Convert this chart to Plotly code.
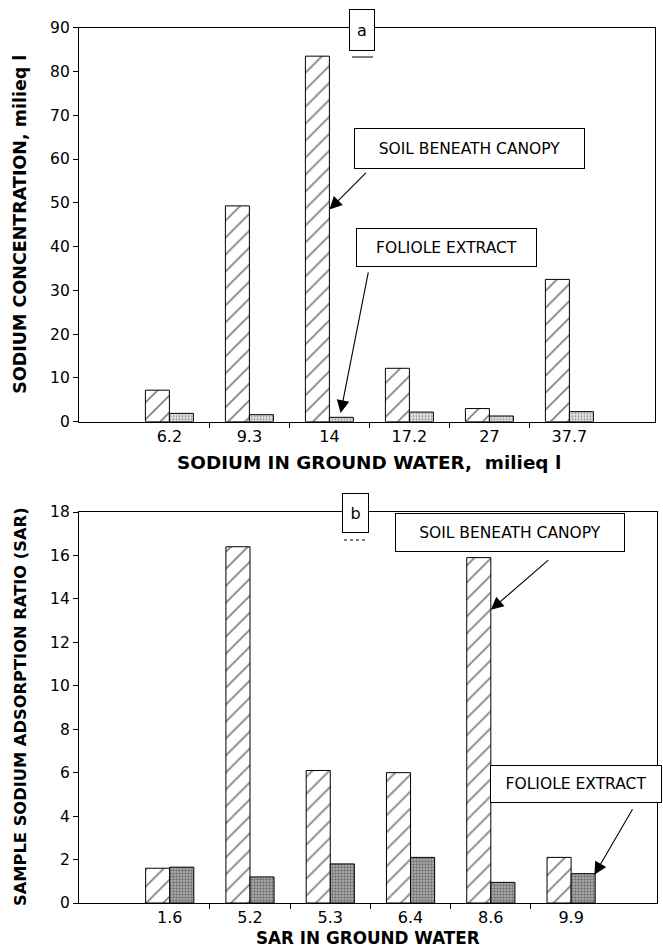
import plotly.graph_objects as go

# ---------------- data ----------------
categories_a = ["6.2", "9.3", "14", "17.2", "27", "37.7"]
soil_a = [7.2, 49.3, 83.5, 12.2, 3.0, 32.5]
foliole_a = [1.9, 1.6, 1.0, 2.2, 1.3, 2.3]

categories_b = ["1.6", "5.2", "5.3", "6.4", "8.6", "9.9"]
soil_b = [1.6, 16.4, 6.1, 6.0, 15.9, 2.1]
foliole_b = [1.65, 1.2, 1.8, 2.1, 0.95, 1.35]

yticks_a = list(range(0, 91, 10))
yticks_b = list(range(0, 19, 2))

W, H = 663, 949


def px(x):
    return x / W


def py(y):
    return 1 - y / H


FONT = "DejaVu Sans"
idx_a = list(range(len(categories_a)))
idx_b = list(range(len(categories_b)))

fig = go.Figure()

soil_pattern = dict(shape="/", fgcolor="black", bgcolor="white", size=12, solidity=0.14)
fol_pattern_a = dict(shape=".", fgcolor="#444444", bgcolor="#e6e6e6", size=3, solidity=0.35)
fol_pattern_b = dict(shape=".", fgcolor="#222222", bgcolor="#a8a8a8", size=3, solidity=0.4)

fig.add_trace(go.Bar(x=idx_a, y=soil_a, width=0.3, offset=-0.3, xaxis="x", yaxis="y",
                     marker=dict(color="white", line=dict(color="black", width=1), pattern=soil_pattern),
                     showlegend=False, name="Soil beneath canopy"))
fig.add_trace(go.Bar(x=idx_a, y=foliole_a, width=0.3, offset=0.0, xaxis="x", yaxis="y",
                     marker=dict(color="#e6e6e6", line=dict(color="black", width=1), pattern=fol_pattern_a),
                     showlegend=False, name="Foliole extract"))
fig.add_trace(go.Bar(x=idx_b, y=soil_b, width=0.3, offset=-0.3, xaxis="x2", yaxis="y2",
                     marker=dict(color="white", line=dict(color="black", width=1), pattern=soil_pattern),
                     showlegend=False, name="Soil beneath canopy"))
fig.add_trace(go.Bar(x=idx_b, y=foliole_b, width=0.3, offset=0.0, xaxis="x2", yaxis="y2",
                     marker=dict(color="#a8a8a8", line=dict(color="black", width=1), pattern=fol_pattern_b),
                     showlegend=False, name="Foliole extract"))

xr = [-1.13, 6.07]
minor_vals = [i + 0.5 for i in range(len(categories_a) - 1)]

common_x = dict(range=xr, showline=True, linecolor="black", linewidth=1.3, mirror=True,
                ticks="", showgrid=False, zeroline=False, automargin=False,
                tickfont=dict(family=FONT, size=16, color="black"),
                minor=dict(tickvals=minor_vals, ticks="outside", ticklen=5, tickcolor="black", tickwidth=1),
                fixedrange=True)
common_y = dict(showline=True, linecolor="black", linewidth=1.3, mirror=True,
                ticks="outside", ticklen=5, tickcolor="black", tickwidth=1, automargin=False,
                showgrid=False, zeroline=False,
                tickfont=dict(family=FONT, size=15.5, color="black"), fixedrange=True)

fig.update_layout(
    width=W, height=H,
    margin=dict(l=0, r=0, t=0, b=0, pad=0, autoexpand=False),
    paper_bgcolor="white", plot_bgcolor="white",
    barmode="overlay",
    showlegend=False,
    xaxis=dict(domain=[px(79), px(655)], anchor="y", tickvals=idx_a, ticktext=categories_a, **common_x),
    yaxis=dict(domain=[py(421.7), py(27.7)], anchor="x", range=[0, 90], tickvals=yticks_a, **common_y),
    xaxis2=dict(domain=[px(79), px(657)], anchor="y2", tickvals=idx_b, ticktext=categories_b, **common_x),
    yaxis2=dict(domain=[py(903), py(512)], anchor="x2", range=[0, 18], tickvals=yticks_b, **common_y),
)

ann = []


def title(text, x, y, size, angle=0):
    return dict(text=text, x=px(x), y=py(y), xref="paper", yref="paper", xanchor="center", yanchor="middle",
                textangle=angle, showarrow=False, borderpad=0, font=dict(family=FONT, size=size, color="black"))


ann.append(title("<b>SODIUM CONCENTRATION, milieq l</b>", 20, 224.7, 17.5, -90))
ann.append(title("<b>SODIUM IN GROUND WATER,  milieq l</b>", 369, 462, 18.4))
ann.append(title("<b>SAMPLE SODIUM ADSORPTION RATIO (SAR)</b>", 20, 707, 16.3, -90))
ann.append(title("<b>SAR IN GROUND WATER</b>", 368, 937.5, 16.8))


def box(text, x0, x1, y0, y1, size):
    return dict(text=text, x=px((x0 + x1) / 2), y=py((y0 + y1) / 2), xref="paper", yref="paper",
                xanchor="center", yanchor="middle", showarrow=False,
                width=x1 - x0 - 2, height=y1 - y0 - 2, bgcolor="white", bordercolor="black",
                borderwidth=1, borderpad=0, font=dict(family=FONT, size=size, color="black"))


ann.append(box("a", 349, 375, 9, 51, 16))
ann.append(box("b", 342, 369, 493, 533, 16))
ann.append(box("SOIL BENEATH CANOPY", 354, 585, 128, 169, 15.5))
ann.append(box("FOLIOLE EXTRACT", 356, 537, 228, 267, 15.5))
ann.append(box("SOIL BENEATH CANOPY", 395, 625, 513, 552, 15.5))
ann.append(box("FOLIOLE EXTRACT", 490, 662, 765, 803, 15.5))


def arrow(xref, yref, xh, yh, ax, ay):
    return dict(text="", x=xh, y=yh, xref=xref, yref=yref, ax=ax, ay=ay, axref="pixel", ayref="pixel",
                showarrow=True, arrowhead=2, arrowsize=2.3, arrowwidth=1.1, arrowcolor="black", standoff=0)


ann.append(arrow("x", "y", 2.0, 48.5, 38, -38))
ann.append(arrow("x", "y", 2.14, 2.0, 28, -142))
ann.append(arrow("x2", "y2", 4.0, 13.5, 59, -51))
ann.append(arrow("x2", "y2", 5.29, 1.3, 39, -67))

fig.update_layout(annotations=ann)

fig.update_layout(shapes=[
    dict(type="line", xref="paper", yref="paper", x0=px(352), x1=px(373), y0=py(57), y1=py(57),
         line=dict(color="black", width=1)),
    dict(type="line", xref="paper", yref="paper", x0=px(344), x1=px(367), y0=py(540), y1=py(540),
         line=dict(color="black", width=1, dash="dot")),
])

fig.write_html("out.html", config={"displayModeBar": False},
               post_script="document.body.style.margin='0px';document.body.style.overflow='hidden';")
